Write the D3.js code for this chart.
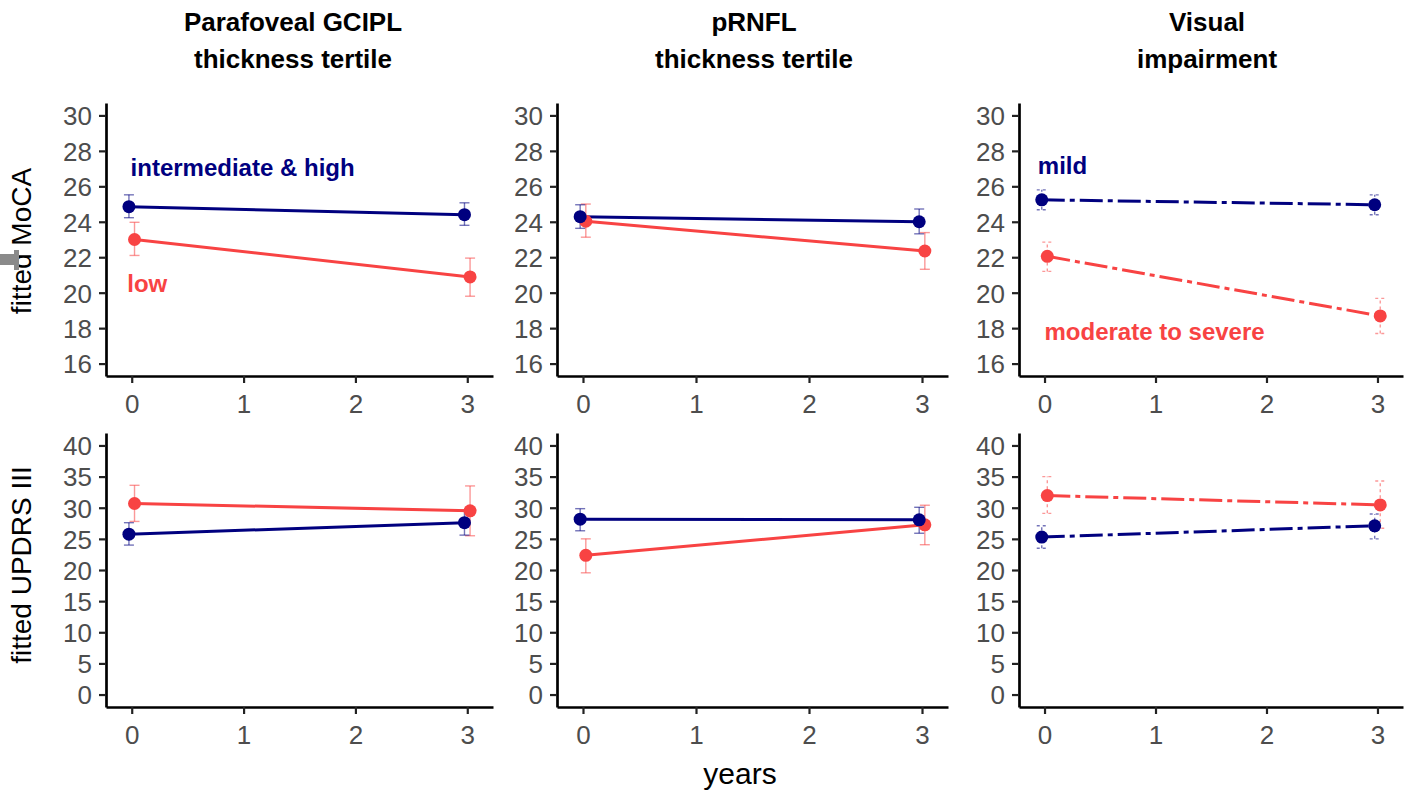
<!DOCTYPE html>
<html>
<head>
    <script src="https://d3js.org/d3.v7.min.js"></script>
    <style>
        body { margin: 0; background: #fff; }
        text { font-family: "Liberation Sans", Arial, sans-serif; }
        .tick text { font-size: 26px; fill: #4d4d4d; }
    </style>
</head>
<body>
    <div id="chart"></div>
    <script>
        // time points (years) and axis ticks
        var years = [0, 3];
        var xTicks = [0, 1, 2, 3];
        var mocaTicks = [16, 18, 20, 22, 24, 26, 28, 30];
        var updrsTicks = [0, 5, 10, 15, 20, 25, 30, 35, 40];

        var columnTitles = [
            ["Parafoveal GCIPL", "thickness tertile"],
            ["pRNFL", "thickness tertile"],
            ["Visual", "impairment"]
        ];
        var rowTitles = ["fitted MoCA", "fitted UPDRS III"];

        // fitted MoCA, mean and 95% CI
        var moca_gcipl_high = [24.85, 24.40];
        var moca_gcipl_high_ci = [[24.23, 25.52], [23.80, 25.07]];
        var moca_gcipl_low = [23.00, 20.89];
        var moca_gcipl_low_ci = [[22.10, 23.97], [19.80, 21.95]];
        var moca_prnfl_high = [24.29, 24.00];
        var moca_prnfl_high_ci = [[23.63, 24.96], [23.32, 24.72]];
        var moca_prnfl_low = [24.03, 22.35];
        var moca_prnfl_low_ci = [[23.13, 25.00], [21.32, 23.39]];
        var moca_vi_mild = [25.24, 24.96];
        var moca_vi_mild_ci = [[24.68, 25.80], [24.40, 25.52]];
        var moca_vi_severe = [22.05, 18.69];
        var moca_vi_severe_ci = [[21.20, 22.85], [17.70, 19.68]];

        // fitted UPDRS III, mean and 95% CI
        var updrs_gcipl_high = [25.75, 27.60];
        var updrs_gcipl_high_ci = [[24.0, 27.6], [25.6, 29.6]];
        var updrs_gcipl_low = [30.68, 29.50];
        var updrs_gcipl_low_ci = [[27.8, 33.6], [25.5, 33.5]];
        var updrs_prnfl_high = [28.16, 28.05];
        var updrs_prnfl_high_ci = [[26.3, 29.85], [25.9, 30.07]];
        var updrs_prnfl_low = [22.36, 27.25];
        var updrs_prnfl_low_ci = [[19.55, 25.0], [24.06, 30.4]];
        var updrs_vi_mild = [25.28, 27.10];
        var updrs_vi_mild_ci = [[23.5, 27.1], [25.0, 29.0]];
        var updrs_vi_severe = [31.95, 30.45];
        var updrs_vi_severe_ci = [[29.1, 35.0], [26.7, 34.3]];

        var navy = "#00007f", red = "#f84343";

        var panels = [
            { row: 0, col: 0, good: [moca_gcipl_high, moca_gcipl_high_ci], bad: [moca_gcipl_low, moca_gcipl_low_ci], dash: false,
              labels: [["intermediate & high", -0.01, 27.05, navy], ["low", -0.04, 20.55, red]] },
            { row: 0, col: 1, good: [moca_prnfl_high, moca_prnfl_high_ci], bad: [moca_prnfl_low, moca_prnfl_low_ci], dash: false, labels: [] },
            { row: 0, col: 2, good: [moca_vi_mild, moca_vi_mild_ci], bad: [moca_vi_severe, moca_vi_severe_ci], dash: true,
              labels: [["mild", -0.06, 27.2, navy], ["moderate to severe", 0.0, 17.8, red]] },
            { row: 1, col: 0, good: [updrs_gcipl_high, updrs_gcipl_high_ci], bad: [updrs_gcipl_low, updrs_gcipl_low_ci], dash: false, labels: [] },
            { row: 1, col: 1, good: [updrs_prnfl_high, updrs_prnfl_high_ci], bad: [updrs_prnfl_low, updrs_prnfl_low_ci], dash: false, labels: [] },
            { row: 1, col: 2, good: [updrs_vi_mild, updrs_vi_mild_ci], bad: [updrs_vi_severe, updrs_vi_severe_ci], dash: true, labels: [] }
        ];

        // layout
        var colLeft = [106, 557, 1019], colRight = [493, 948, 1403];
        var rowTop = [103, 433], rowBottom = [376, 707];
        var yDomains = [[15.3, 30.7], [-2, 42]];
        var yTickSets = [mocaTicks, updrsTicks];
        var titleX = [293, 754, 1207];
        var dodge = 0.025;

        var svg = d3.select("#chart").append("svg")
            .attr("width", 1419).attr("height", 795);

        // column titles
        columnTitles.forEach(function (lines, i) {
            lines.forEach(function (t, j) {
                svg.append("text")
                    .attr("x", titleX[i]).attr("y", 31 + j * 37)
                    .attr("text-anchor", "middle")
                    .style("font-size", "26px").style("font-weight", "bold")
                    .text(t);
            });
        });

        // row titles
        rowTitles.forEach(function (t, i) {
            var cy = i == 0 ? 241 : 565;
            svg.append("text")
                .attr("transform", "translate(31," + cy + ") rotate(-90)")
                .attr("text-anchor", "middle")
                .style("font-size", "28px")
                .text(t);
        });

        // small grey mark at the left edge
        svg.append("rect").attr("x", 0).attr("y", 254).attr("width", 19).attr("height", 11).style("fill", "#8a8a8a");
        svg.append("rect").attr("x", 14).attr("y", 250).attr("width", 5).attr("height", 20).style("fill", "#8a8a8a");

        svg.append("text")
            .attr("x", 740).attr("y", 784)
            .attr("text-anchor", "middle")
            .style("font-size", "30px")
            .text("years");

        panels.forEach(function (p) {
            var x = d3.scaleLinear().domain([-0.23, 3.23]).range([colLeft[p.col], colRight[p.col]]);
            var y = d3.scaleLinear().domain(yDomains[p.row]).range([rowBottom[p.row], rowTop[p.row]]);
            var g = svg.append("g");

            var xAxis = g.append("g")
                .attr("transform", "translate(0," + rowBottom[p.row] + ")")
                .call(d3.axisBottom(x).tickValues(xTicks).tickFormat(d3.format("d")).tickSize(7).tickSizeOuter(0).tickPadding(5));
            var yAxis = g.append("g")
                .attr("transform", "translate(" + colLeft[p.col] + ",0)")
                .call(d3.axisLeft(y).tickValues(yTickSets[p.row]).tickSize(7).tickSizeOuter(0).tickPadding(7));
            [xAxis, yAxis].forEach(function (a) {
                a.select(".domain").style("stroke", "#000").style("stroke-width", 2.7);
                a.selectAll(".tick line").style("stroke", "#222").style("stroke-width", 2.2);
                a.selectAll(".tick text").style("font-family", "'Liberation Sans', Arial, sans-serif");
            });
            xAxis.selectAll(".tick text").attr("dy", "0.95em");
            yAxis.selectAll(".tick text").attr("dy", "0.36em");

            var series = [
                { mean: p.bad[0], ci: p.bad[1], color: red, off: dodge },
                { mean: p.good[0], ci: p.good[1], color: navy, off: -dodge }
            ];
            var dash = p.dash ? "23,5,5,5" : null;

            series.forEach(function (s) {
                var pts = years.map(function (t, i) { return { t: t + s.off, v: s.mean[i], lo: s.ci[i][0], hi: s.ci[i][1] }; });

                // error bars
                var eb = g.selectAll(null).data(pts).enter().append("g")
                    .style("stroke", s.color).style("stroke-opacity", 0.55).style("stroke-width", 1.4)
                    .style("stroke-dasharray", p.dash ? "3,3" : null);
                eb.append("line")
                    .attr("x1", function (d) { return x(d.t); }).attr("x2", function (d) { return x(d.t); })
                    .attr("y1", function (d) { return y(d.lo); }).attr("y2", function (d) { return y(d.hi); });
                eb.append("line")
                    .attr("x1", function (d) { return x(d.t) - 5; }).attr("x2", function (d) { return x(d.t) + 5; })
                    .attr("y1", function (d) { return y(d.lo); }).attr("y2", function (d) { return y(d.lo); });
                eb.append("line")
                    .attr("x1", function (d) { return x(d.t) - 5; }).attr("x2", function (d) { return x(d.t) + 5; })
                    .attr("y1", function (d) { return y(d.hi); }).attr("y2", function (d) { return y(d.hi); });

                s.pts = pts;
            });

            series.forEach(function (s) {
                g.append("path")
                    .datum(s.pts)
                    .attr("d", d3.line().x(function (d) { return x(d.t); }).y(function (d) { return y(d.v); }))
                    .style("fill", "none")
                    .style("stroke", s.color)
                    .style("stroke-width", 3)
                    .style("stroke-dasharray", dash);
            });

            series.forEach(function (s) {
                g.selectAll(null).data(s.pts).enter().append("circle")
                    .attr("cx", function (d) { return x(d.t); })
                    .attr("cy", function (d) { return y(d.v); })
                    .attr("r", 6.5)
                    .style("fill", s.color);
            });

            p.labels.forEach(function (l) {
                g.append("text")
                    .attr("x", x(l[1])).attr("y", y(l[2]))
                    .attr("dy", "0.36em")
                    .style("font-size", "24px").style("font-weight", "bold")
                    .style("fill", l[3])
                    .text(l[0]);
            });
        });
    </script>
</body>
</html>
